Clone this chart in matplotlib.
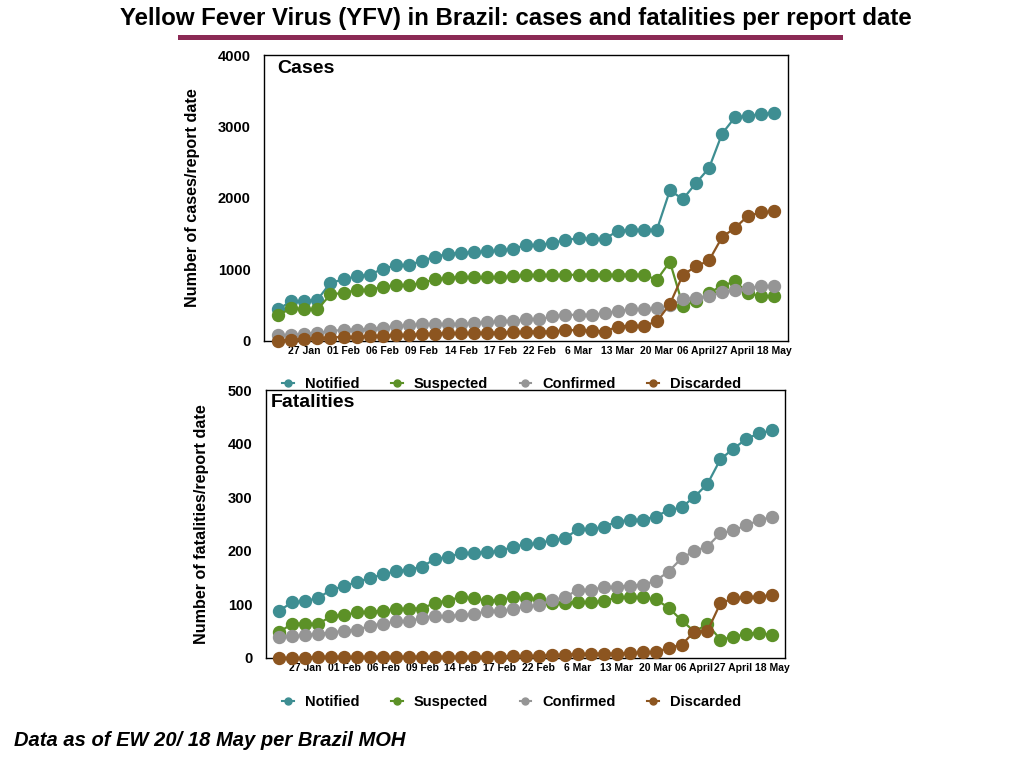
import matplotlib
matplotlib.use("Agg")
import matplotlib.pyplot as plt
from matplotlib.lines import Line2D
from matplotlib.patches import Rectangle
from matplotlib import font_manager

names = {f.name for f in font_manager.fontManager.ttflist}
BASE = 'Liberation Sans' if 'Liberation Sans' in names else 'DejaVu Sans'
plt.rcParams['font.family'] = [BASE, 'DejaVu Sans']

# ---------------- data ----------------
tick_labels = ['27 Jan', '01 Feb', '06 Feb', '09 Feb', '14 Feb', '17 Feb', '22 Feb',
               '6 Mar', '13 Mar', '20 Mar', '06 April', '27 April', '18 May']
tick_index = [2, 5, 8, 11, 14, 17, 20, 23, 26, 29, 32, 35, 38]

series_names = ['Notified', 'Suspected', 'Confirmed', 'Discarded']

cases_notified = [439, 552, 552, 571, 810, 856, 903, 922, 1006, 1053,
                  1057, 1118, 1174, 1216, 1230, 1240, 1249, 1263, 1287, 1340,
                  1338, 1371, 1408, 1436, 1427, 1422, 1539, 1549, 1553, 1553,
                  2105, 1983, 2208, 2419, 2901, 3134, 3144, 3181, 3190]
cases_suspected = [360, 449, 440, 435, 646, 669, 706, 711, 753, 777,
                   772, 810, 856, 880, 889, 884, 884, 884, 898, 922,
                   917, 920, 920, 922, 925, 922, 922, 925, 922, 852,
                   1104, 487, 552, 669, 768, 828, 664, 618, 618]
cases_confirmed = [75, 75, 94, 108, 131, 150, 154, 164, 182, 201,
                   215, 225, 229, 229, 234, 243, 257, 267, 276, 295,
                   299, 337, 360, 360, 360, 384, 412, 440, 440, 454,
                   491, 580, 594, 618, 678, 706, 739, 758, 758]
cases_discarded = [0, 14, 19, 33, 42, 51, 51, 61, 70, 75,
                   80, 89, 98, 103, 103, 108, 112, 112, 117, 126,
                   126, 126, 145, 145, 140, 126, 196, 206, 206, 267,
                   510, 922, 1039, 1123, 1450, 1582, 1750, 1796, 1810]

fat_notified = [88, 104, 106, 112, 127, 134, 142, 149, 156, 162,
                165, 170, 185, 188, 196, 196, 198, 199, 208, 212,
                214, 220, 223, 240, 240, 245, 254, 258, 258, 264,
                276, 281, 301, 325, 371, 391, 409, 420, 425]
fat_suspected = [48, 64, 64, 63, 78, 80, 85, 86, 88, 91,
                 92, 92, 103, 107, 114, 111, 107, 108, 113, 111,
                 109, 103, 103, 104, 104, 106, 113, 113, 113, 109,
                 94, 70, 49, 63, 34, 39, 45, 47, 42]
fat_confirmed = [39, 40, 42, 45, 47, 51, 52, 60, 64, 68,
                 68, 75, 78, 78, 80, 81, 88, 88, 91, 96,
                 98, 108, 113, 127, 127, 132, 133, 135, 136, 144,
                 161, 186, 200, 208, 233, 238, 248, 257, 264]
fat_discarded = [0, 0, 0, 2, 2, 2, 2, 2, 2, 2,
                 2, 2, 2, 2, 2, 2, 2, 2, 3, 3,
                 4, 5, 6, 7, 8, 8, 8, 9, 10, 10,
                 19, 24, 49, 50, 102, 111, 114, 114, 118]

colors = ['#3E8E92', '#5C9127', '#959595', '#8C5520']

# ---------------- figure ----------------
fig = plt.figure(figsize=(10.24, 7.68), dpi=100)
W, H = 1024, 768

def add_axes_px(left, top, right, bottom):
    return fig.add_axes([left / W, 1 - bottom / H, (right - left) / W, (bottom - top) / H])

ax1 = add_axes_px(264.3, 55.3, 788.3, 340.5)
ax2 = add_axes_px(266.3, 390.3, 785.3, 657.8)

def draw(ax, data, ymax, ystep, xlim, label):
    x = list(range(len(data[0])))
    for vals, c in zip(data, colors):
        ax.plot(x, vals, color=c, lw=1.6, marker='o', ms=8.6, mec=c, mfc=c,
                clip_on=False, zorder=3)
    ax.set_xlim(*xlim)
    ax.set_ylim(0, ymax)
    ax.set_yticks(list(range(0, ymax + 1, ystep)))
    ax.set_xticks(tick_index)
    ax.set_xticklabels(tick_labels, fontsize=7.5, fontweight='bold')
    for t in ax.get_yticklabels():
        t.set_fontsize(10.5)
        t.set_fontweight('bold')
    ax.tick_params(axis='y', length=0, pad=10)
    ax.tick_params(axis='x', length=0, pad=4)
    for s in ax.spines.values():
        s.set_linewidth(1.0)
        s.set_color('black')
    ax.set_ylabel(label, fontsize=11.6, fontweight='bold')
    return ax

draw(ax1, [cases_notified, cases_suspected, cases_confirmed, cases_discarded],
     4000, 1000, (-1.07, 39.07), 'Number of cases/report date')
draw(ax2, [fat_notified, fat_suspected, fat_confirmed, fat_discarded],
     500, 100, (-1.0, 39.0), 'Number of fatalities/report date')

ax1.yaxis.set_label_coords((200 - 264.3) / 524.0, 0.5)
ax2.yaxis.set_label_coords((209 - 266.3) / 519.0, 0.5)

ax1.text(0.024, 0.985, 'Cases', transform=ax1.transAxes, ha='left', va='top',
         fontsize=14, fontweight='bold')
ax2.text(0.009, 0.985, 'Fatalities', transform=ax2.transAxes, ha='left', va='top',
         fontsize=14, fontweight='bold')

# legends
handles = [Line2D([0], [0], color=c, lw=1.5, marker='o', ms=5, mec=c, mfc=c)
           for c in colors]
for ycen in (384, 702):
    fig.legend(handles, series_names, loc='center left',
               bbox_to_anchor=(282 / W, 1 - ycen / H), ncol=4, frameon=False,
               prop={'size': 10.5, 'weight': 'bold'}, handlelength=0.8,
               handletextpad=0.75, columnspacing=2.18, borderpad=0,
               borderaxespad=0)

# title and underline bar
fig.text(516 / W, 1 - 18 / H,
         'Yellow Fever Virus (YFV) in Brazil: cases and fatalities per report date',
         ha='center', va='center', fontsize=17.3, fontweight='bold')
fig.add_artist(Rectangle((178 / W, 1 - 39.5 / H), (843 - 178) / W, 4 / H,
                         transform=fig.transFigure, color='#8B2A55', lw=0))

# footnote
fig.text(14 / W, 1 - 741 / H, 'Data as of EW 20/ 18 May per Brazil MOH',
         ha='left', va='center', fontsize=14.5, fontweight='bold', fontstyle='italic')

fig.savefig('out.png', dpi=100)
